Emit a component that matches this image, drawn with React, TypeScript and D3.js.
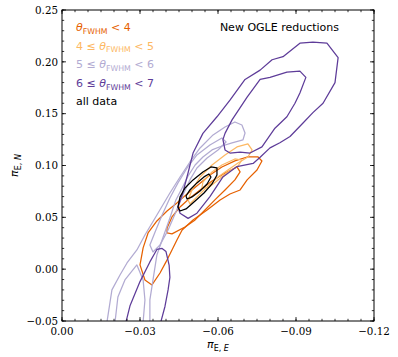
import { useEffect, useRef } from 'react';
import * as d3 from 'd3';

// contour vertices [piE_E, piE_N]
const orangeOuter = [
  [-0.030, 0.0041], [-0.0312, 0.0205], [-0.0331, 0.0349], [-0.0365, 0.0465], [-0.0404, 0.0561],
  [-0.0442, 0.0639], [-0.0481, 0.0726], [-0.0523, 0.0812], [-0.0569, 0.0909], [-0.0615, 0.0986],
  [-0.0665, 0.1044], [-0.0712, 0.1082], [-0.0754, 0.1082], [-0.0769, 0.1044], [-0.075, 0.0957],
  [-0.0712, 0.0861], [-0.0685, 0.0764], [-0.0646, 0.0725], [-0.0608, 0.0668], [-0.0558, 0.0571],
  [-0.0504, 0.0475], [-0.0462, 0.0378], [-0.0442, 0.0282], [-0.0423, 0.0185], [-0.04, 0.0070],
  [-0.0377, -0.0037], [-0.0346, -0.0152], [-0.0319, -0.0104],
];
const orangeInner = [
  [-0.0404, 0.0397], [-0.0423, 0.0504], [-0.0454, 0.060], [-0.0492, 0.0687], [-0.0531, 0.0764],
  [-0.0577, 0.0851], [-0.0627, 0.0928], [-0.0673, 0.0986], [-0.0685, 0.0938], [-0.0665, 0.0861],
  [-0.0627, 0.0764], [-0.0588, 0.0668], [-0.055, 0.0571], [-0.0512, 0.0475], [-0.0473, 0.0407],
  [-0.0423, 0.034], [-0.0404, 0.035],
];
const lightOrangeOuter = [
  [-0.0485, 0.0668], [-0.05, 0.0764], [-0.0531, 0.0889], [-0.0577, 0.1005], [-0.0627, 0.1102],
  [-0.0673, 0.1179], [-0.0715, 0.1208], [-0.0731, 0.1150], [-0.0715, 0.1082], [-0.0677, 0.1024],
  [-0.0638, 0.0957], [-0.06, 0.0889], [-0.0562, 0.0803], [-0.0523, 0.0706], [-0.0492, 0.0629],
];
const lightOrangeInner = [
  [-0.0542, 0.0841], [-0.0577, 0.0938], [-0.0615, 0.1005], [-0.0665, 0.1063], [-0.0692, 0.1053],
  [-0.0677, 0.0995], [-0.0638, 0.0938], [-0.06, 0.0861], [-0.0562, 0.0783], [-0.0538, 0.0783],
];
const lightPurpleOuter = [
  [-0.0169, -0.0586], [-0.0173, -0.0509], [-0.0192, -0.0200], [-0.0223, -0.0056], [-0.025, 0.0060],
  [-0.0288, 0.0185], [-0.0319, 0.0330], [-0.0365, 0.0523], [-0.0415, 0.0735], [-0.0454, 0.0889],
  [-0.0492, 0.1034], [-0.0531, 0.1169], [-0.0581, 0.1295], [-0.0627, 0.1372], [-0.0665, 0.1420],
  [-0.0692, 0.1391], [-0.0704, 0.1314], [-0.0696, 0.1247], [-0.0654, 0.1218], [-0.0615, 0.1188],
  [-0.0577, 0.1150], [-0.0542, 0.1082], [-0.0512, 0.1005], [-0.0485, 0.0899], [-0.0462, 0.0783],
  [-0.0438, 0.0668], [-0.0415, 0.0494], [-0.0385, 0.0282], [-0.0365, 0.0137], [-0.035, -0.0104],
  [-0.0338, -0.0297], [-0.0338, -0.0509], [-0.0338, -0.0586],
];
const lightPurpleInner = [
  [-0.0338, 0.0234], [-0.0358, 0.0359], [-0.0385, 0.0523], [-0.0415, 0.0687], [-0.0446, 0.0832],
  [-0.0481, 0.0976], [-0.0519, 0.1102], [-0.0569, 0.1198], [-0.0615, 0.1266], [-0.0631, 0.1227],
  [-0.06, 0.1150], [-0.0558, 0.1073], [-0.0519, 0.0976], [-0.0492, 0.0861], [-0.0465, 0.0716],
  [-0.0438, 0.0552], [-0.0408, 0.0378], [-0.0377, 0.0234], [-0.035, 0.0166],
];
const lightPurpleLow = [
  [-0.0196, -0.0586], [-0.0204, -0.0509], [-0.0215, -0.0268], [-0.0242, -0.0104], [-0.0288, 0.0041],
  [-0.0312, -0.0104], [-0.0319, -0.0297], [-0.0312, -0.0509], [-0.0312, -0.0586],
];
const purpleOuter = [
  [-0.0915, 0.218], [-0.0965, 0.219], [-0.1019, 0.218], [-0.1062, 0.204], [-0.105, 0.180],
  [-0.1004, 0.160], [-0.0965, 0.151], [-0.0927, 0.141], [-0.0877, 0.128], [-0.0838, 0.122],
  [-0.08, 0.117], [-0.0762, 0.108], [-0.0735, 0.102], [-0.0673, 0.099], [-0.0619, 0.089],
  [-0.0569, 0.070], [-0.0519, 0.054], [-0.0485, 0.049], [-0.0454, 0.054], [-0.0446, 0.060],
  [-0.0465, 0.074], [-0.0485, 0.093], [-0.0504, 0.112], [-0.0542, 0.131], [-0.0596, 0.147],
  [-0.0646, 0.163], [-0.0704, 0.183], [-0.0762, 0.192], [-0.0808, 0.202], [-0.085, 0.205],
];
const purpleInner = [
  [-0.0915, 0.191], [-0.0938, 0.185], [-0.0915, 0.170], [-0.0896, 0.160], [-0.0865, 0.147],
  [-0.0819, 0.136], [-0.0769, 0.118], [-0.0723, 0.112], [-0.0685, 0.113], [-0.0646, 0.112],
  [-0.0627, 0.115], [-0.0619, 0.125], [-0.0627, 0.131], [-0.0654, 0.144], [-0.0712, 0.166],
  [-0.0762, 0.183], [-0.08, 0.185], [-0.0865, 0.190],
];
const purpleLow = [
  [-0.0242, -0.060], [-0.0246, -0.051], [-0.0262, -0.035], [-0.03, -0.012], [-0.0338, 0.007],
  [-0.0365, 0.019], [-0.0385, 0.020], [-0.04, 0.017], [-0.0412, 0.004], [-0.0415, -0.008],
  [-0.0408, -0.020], [-0.0396, -0.036], [-0.038, -0.051], [-0.0378, -0.060],
];
const allOuter = [
  [-0.0446, 0.0600], [-0.0454, 0.0697], [-0.0473, 0.0783], [-0.0504, 0.0861], [-0.0542, 0.0938],
  [-0.0573, 0.0986], [-0.0596, 0.0976], [-0.0596, 0.0909], [-0.0577, 0.0822], [-0.0546, 0.0735],
  [-0.0512, 0.0658], [-0.0477, 0.0581], [-0.0454, 0.0561],
];
const allInner = [
  [-0.0477, 0.0706], [-0.0492, 0.0764], [-0.0519, 0.0832], [-0.0546, 0.0890], [-0.0565, 0.0918],
  [-0.0573, 0.0889], [-0.0558, 0.0822], [-0.0531, 0.0754], [-0.05, 0.0697], [-0.0481, 0.0677],
];

const groups = [
  { color: '#e66101', contours: [orangeOuter, orangeInner] },
  { color: '#fdb863', contours: [lightOrangeOuter, lightOrangeInner] },
  { color: '#b2abd2', contours: [lightPurpleOuter, lightPurpleInner, lightPurpleLow] },
  { color: '#5e3c99', contours: [purpleOuter, purpleInner, purpleLow] },
  { color: '#000000', contours: [allOuter, allInner] },
];

const xMajor = [0, -0.03, -0.06, -0.09, -0.12];
const yMajor = [-0.05, 0, 0.05, 0.1, 0.15, 0.2, 0.25];
const legendLo = ['', '4 \u2264 ', '5 \u2264 ', '6 \u2264 '];
const legendHi = [' < 4', ' < 5', ' < 6', ' < 7'];

const W = 398;
const H = 357;
const margin = { top: 10, right: 24, bottom: 36, left: 62 };

const App = () => {
  const svgRef = useRef(null);
  const iw = W - margin.left - margin.right;
  const ih = H - margin.top - margin.bottom;

  useEffect(() => {
    const svg = d3.select(svgRef.current);
    svg.selectAll('*').remove();

    const x = d3.scaleLinear().domain([0, -0.12]).range([0, iw]);
    const y = d3.scaleLinear().domain([-0.05, 0.25]).range([ih, 0]);
    const fmt = (v) => d3.format('.2f')(v).replace('-', '\u2212');

    svg.append('defs').append('clipPath').attr('id', 'plotclip')
      .append('rect').attr('width', iw).attr('height', ih);

    const g = svg.append('g').attr('transform', `translate(${margin.left},${margin.top})`);

    // contours
    const line = d3.line().x(d => x(d[0])).y(d => y(d[1])).curve(d3.curveLinearClosed);
    const cg = g.append('g').attr('clip-path', 'url(#plotclip)');
    groups.forEach(grp => {
      grp.contours.forEach(c => {
        cg.append('path').attr('d', line(c)).attr('fill', 'none')
          .attr('stroke', grp.color).attr('stroke-width', 1.25).attr('stroke-linejoin', 'round');
      });
    });

    // frame + inward ticks on all sides
    g.append('rect').attr('width', iw).attr('height', ih)
      .attr('fill', 'none').attr('stroke', '#000').attr('stroke-width', 1);

    const xMinor = d3.range(0, 25).map(i => -i * 0.005);
    const yMinor = d3.range(0, 31).map(i => -0.05 + i * 0.01);
    const ticks = g.append('g').attr('stroke', '#000').attr('stroke-width', 0.8);
    [[xMinor, 2.2], [xMajor, 4]].forEach(([vals, len]) => {
      vals.forEach(v => {
        const px = x(v);
        ticks.append('line').attr('x1', px).attr('x2', px).attr('y1', ih).attr('y2', ih - len);
        ticks.append('line').attr('x1', px).attr('x2', px).attr('y1', 0).attr('y2', len);
      });
    });
    [[yMinor, 2.2], [yMajor, 4]].forEach(([vals, len]) => {
      vals.forEach(v => {
        const py = y(v);
        ticks.append('line').attr('x1', 0).attr('x2', len).attr('y1', py).attr('y2', py);
        ticks.append('line').attr('x1', iw).attr('x2', iw - len).attr('y1', py).attr('y2', py);
      });
    });

    // tick labels
    g.selectAll('.xl').data(xMajor).enter().append('text')
      .attr('x', d => x(d)).attr('y', ih + 13.5).attr('text-anchor', 'middle')
      .style('font-family', 'DejaVu Serif').style('font-size', '10.3px').text(d => fmt(d));
    g.selectAll('.yl').data(yMajor).enter().append('text')
      .attr('x', -4).attr('y', d => y(d) + 3.7).attr('text-anchor', 'end')
      .style('font-family', 'DejaVu Serif').style('font-size', '10.3px').text(d => fmt(d));

    // axis labels
    const xl = g.append('text').attr('x', iw / 2).attr('y', ih + 27).attr('text-anchor', 'middle')
      .style('font-family', 'DejaVu Sans').style('font-size', '11px');
    xl.append('tspan').style('font-style', 'italic').text('\u03C0');
    xl.append('tspan').attr('dy', 2.5).style('font-size', '8px').text('E, ');
    xl.append('tspan').style('font-size', '8px').style('font-style', 'italic').text('E');

    const yl = g.append('text').attr('transform', `translate(${-44},${ih / 2}) rotate(-90)`)
      .attr('text-anchor', 'middle').style('font-family', 'DejaVu Sans').style('font-size', '11px');
    yl.append('tspan').style('font-style', 'italic').text('\u03C0');
    yl.append('tspan').attr('dy', 2.5).style('font-size', '8px').text('E, ');
    yl.append('tspan').style('font-size', '8px').style('font-style', 'italic').text('N');

    // legend text
    groups.slice(0, 4).forEach((grp, i) => {
      const t = g.append('text').attr('x', 14).attr('y', 21 + i * 18.7)
        .attr('fill', grp.color).style('font-family', 'DejaVu Sans').style('font-size', '11px');
      if (legendLo[i]) t.append('tspan').text(legendLo[i]);
      t.append('tspan').style('font-style', 'italic').text('\u03B8');
      t.append('tspan').attr('dy', 2.5).style('font-size', '7.8px').text('FWHM');
      t.append('tspan').attr('dy', -2.5).text(legendHi[i]);
    });
    g.append('text').attr('x', 14).attr('y', 95).attr('fill', '#000')
      .style('font-family', 'DejaVu Sans').style('font-size', '11px').text('all data');
    g.append('text').attr('x', 277).attr('y', 21).attr('text-anchor', 'end').attr('fill', '#000')
      .style('font-family', 'DejaVu Sans').style('font-size', '11px').text('New OGLE reductions');
  }, []);

  return (
    <svg ref={svgRef} width={W} height={H}
      style={{ position: 'absolute', left: 0, top: 0, background: '#fff' }} />
  );
};

export default App;
